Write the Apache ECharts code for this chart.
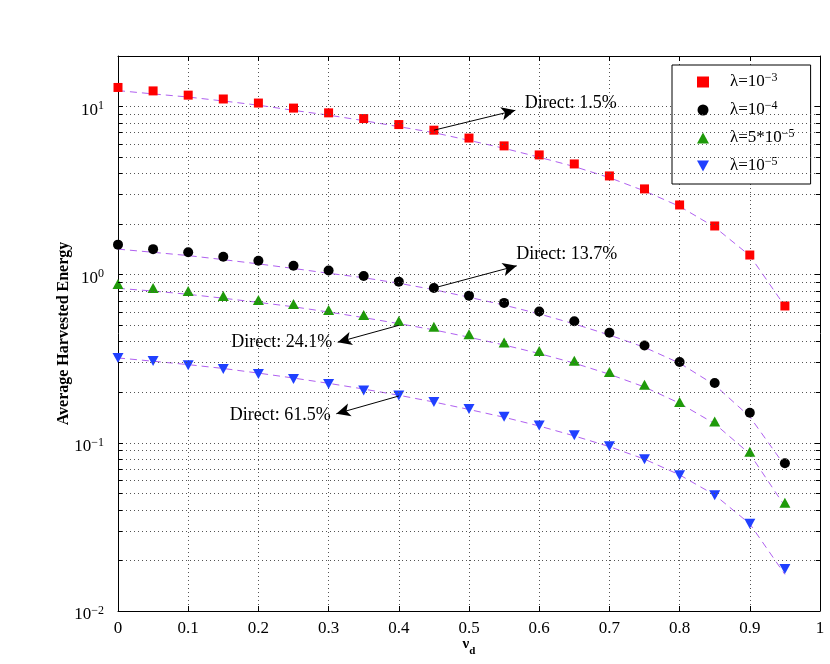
<!DOCTYPE html>
<html><head><meta charset="utf-8">
<script src="https://cdn.jsdelivr.net/npm/echarts@6/dist/echarts.min.js"></script>
<style>html,body{margin:0;padding:0;background:#fff}#c{width:830px;height:664px}</style>
</head><body><div id="c"></div>
<script>
// ---- data ----
const xValues = [0,0.05,0.1,0.15,0.2,0.25,0.3,0.35,0.4,0.45,0.5,0.55,0.6,0.65,0.7,0.75,0.8,0.85,0.9,0.95];
// simulated points (markers)
const sim1e3  = [13.0,12.4,11.7,11.1,10.5,9.8,9.18,8.49,7.82,7.24,6.5,5.84,5.16,4.56,3.87,3.24,2.6,1.95,1.31,0.652];
const sim1e4  = [1.51,1.42,1.36,1.28,1.21,1.13,1.06,0.984,0.91,0.834,0.751,0.68,0.604,0.529,0.452,0.379,0.303,0.227,0.151,0.0757];
const sim5e5  = [0.88,0.835,0.80,0.748,0.708,0.67,0.618,0.577,0.531,0.49,0.443,0.396,0.352,0.308,0.264,0.222,0.175,0.134,0.0887,0.044];
const sim1e5  = [0.32,0.307,0.29,0.275,0.257,0.24,0.224,0.205,0.191,0.175,0.159,0.143,0.127,0.111,0.0955,0.0799,0.0641,0.0488,0.033,0.0178];
// analytical curves (dashed)
const ana1e3  = [12.45,11.9,11.4,10.8,10.2,9.5,8.9,8.25,7.6,7.0,6.3,5.65,5.0,4.4,3.78,3.15,2.55,1.92,1.3,0.65];
const ana1e4  = [1.42,1.36,1.30,1.23,1.16,1.09,1.02,0.96,0.89,0.815,0.735,0.66,0.585,0.51,0.438,0.37,0.298,0.221,0.143,0.073];
const ana5e5  = [0.83,0.80,0.765,0.725,0.685,0.645,0.6,0.556,0.512,0.47,0.425,0.382,0.34,0.298,0.256,0.215,0.172,0.13,0.086,0.042];
const ana1e5  = [0.32,0.306,0.292,0.277,0.26,0.243,0.226,0.209,0.192,0.175,0.158,0.142,0.126,0.11,0.095,0.08,0.0645,0.049,0.033,0.0165];
const seriesNames = ['λ=10^−3','λ=10^−4','λ=5*10^−5','λ=10^−5'];
// y minor grid values
const minorGridY = [0.02,0.03,0.04,0.05,0.06,0.07,0.08,0.09,0.2,0.3,0.4,0.5,0.6,0.7,0.8,0.9,2,3,4,5,6,7,8,9];
// annotations
const annotFrom = [[0.45,7.24],[0.45,0.834],[0.4,0.5],[0.4,0.19]];
const annotTo   = [[0.566,9.5],[0.568,1.13],[0.313,0.397],[0.311,0.149]];
const annotText = ['Direct: 1.5%','Direct: 13.7%','Direct: 24.1%','Direct: 61.5%'];
const annotSide = ['right','right','left','left'];
const annotOffset = [[4,-7],[-6,-12],[0,0],[0,2]];

// ---- styles ----
const FONT = 'Liberation Serif';
const colors = ['#ff0000','#000000','#1f9a0a','#2040ff'];
const symbols = ['rect','circle','triangle','path://M0,0L10,0L5,9Z'];
const symSizes = [9,10,[11,10],[11,10]];
const dashColor = '#b060f0';
const toPair = arr => arr.map((v,i)=>[xValues[i], v]);
const sims = [sim1e3, sim1e4, sim5e5, sim1e5];
const anas = [ana1e3, ana1e4, ana5e5, ana1e5];
const supFmt = s => '{g|}' + s.replace(/\^(−?\d+)/, '{sup|$1}');

const series = [];
anas.forEach((a,i)=>{
  series.push({
    type:'line', name:'ana'+i, data: toPair(a), symbol:'none', z:2, silent:true,
    lineStyle:{color:dashColor, width:1, type:[7,5]}, animation:false
  });
});
// minor grid lines
series[0].markLine = {
  silent:true, symbol:['none','none'], animation:false, label:{show:false},
  lineStyle:{color:'#555', width:1, type:[1,3]},
  data: minorGridY.map(v=>({yAxis:v}))
};
// minor ticks (left & right)
series[1].markLine = {
  silent:true, symbol:['none','none'], animation:false, label:{show:false},
  lineStyle:{color:'#000', width:1, type:'solid'},
  data: minorGridY.flatMap(v=>[[{coord:[0,v]},{coord:[0.006,v]}],[{coord:[0.994,v]},{coord:[1,v]}]])
};
// arrows
series[2].markLine = {
  silent:true, symbol:['none','arrow'], symbolSize:12, animation:false, label:{show:false},
  lineStyle:{color:'#000', width:1, type:'solid'},
  data: annotFrom.map((f,i)=>[{coord:f, symbol:'none'},{coord:annotTo[i], symbol:'arrow', symbolSize:[10,14]}])
};
series[3].markPoint = {
  silent:true, symbol:'circle', symbolSize:1, animation:false,
  itemStyle:{color:'rgba(0,0,0,0)'},
  data: annotTo.map((t,i)=>({coord:t, label:{show:true, formatter:annotText[i], position:annotSide[i], distance:5,
     offset:annotOffset[i], fontFamily:FONT, fontSize:18, color:'#000'}}))
};
sims.forEach((s,i)=>{
  series.push({
    type:'scatter', name:seriesNames[i], data:toPair(s), symbol:symbols[i], symbolSize:symSizes[i],
    itemStyle:{color:colors[i], opacity:1}, z:3, animation:false
  });
});

const richSup = {sup:{fontFamily:FONT, fontSize:12, lineHeight:12, verticalAlign:'top', color:'#000'}};
const chart = echarts.init(document.getElementById('c'), null, {renderer:'canvas'});
chart.setOption({
  animation:false,
  backgroundColor:'#fff',
  grid:{left:118, right:10, top:56, bottom:53, containLabel:false, outerBoundsMode:'none'},
  legend:{
    orient:'vertical', left:672, top:65, padding:[7,16,8,25], itemWidth:12, itemHeight:11, itemGap:8,
    backgroundColor:'#fff', borderColor:'#000', borderWidth:1, borderRadius:0,
    data: seriesNames, formatter: supFmt,
    textStyle:{fontFamily:FONT, fontSize:17, lineHeight:20, color:'#000',
      rich:Object.assign({g:{width:16, height:1}}, richSup)}
  },
  xAxis:[{
    type:'value', min:0, max:1, interval:0.1, position:'bottom',
    name:'ν{sub|d}', nameLocation:'middle', nameGap:20, nameMoveOverlap:false,
    nameTextStyle:{fontFamily:FONT, fontSize:15, fontWeight:'bold', lineHeight:26, color:'#000',
      rich:{sub:{fontFamily:FONT, fontSize:11, fontWeight:'bold', lineHeight:11, verticalAlign:'bottom', color:'#000'}}},
    axisLine:{show:true, onZero:false, lineStyle:{color:'#000', width:1}},
    axisTick:{show:true, inside:true, length:5, lineStyle:{color:'#000'}},
    axisLabel:{fontFamily:FONT, fontSize:17, color:'#000', margin:9},
    splitLine:{show:true, lineStyle:{color:'#555', width:1, type:[1,3]}}
  },{
    type:'value', min:0, max:1, interval:0.1, position:'top',
    axisLine:{show:true, onZero:false, lineStyle:{color:'#000', width:1}},
    axisTick:{show:true, inside:true, length:5, lineStyle:{color:'#000'}},
    axisLabel:{show:false}, splitLine:{show:false}
  }],
  yAxis:[{
    type:'log', logBase:10, min:0.01, max:20, position:'left',
    name:'Average Harvested Energy', nameLocation:'middle', nameGap:46, nameMoveOverlap:false,
    nameTextStyle:{fontFamily:FONT, fontSize:16, fontWeight:'bold', color:'#000'},
    axisLine:{show:true, onZero:false, lineStyle:{color:'#000', width:1}},
    axisTick:{show:true, inside:true, length:5, lineStyle:{color:'#000'}},
    axisLabel:{fontFamily:FONT, fontSize:17, lineHeight:20, color:'#000', margin:14, padding:[7,0,0,0],
      formatter: v => {
        const e = Math.log10(v);
        if (Math.abs(e - Math.round(e)) > 1e-6) return '';
        const r = Math.round(e);
        return '10{sup|' + (r < 0 ? '−' + (-r) : r) + '}';
      },
      rich: richSup},
    splitLine:{show:true, lineStyle:{color:'#555', width:1, type:[1,3]}}
  },{
    type:'log', logBase:10, min:0.01, max:20, position:'right',
    axisLine:{show:true, onZero:false, lineStyle:{color:'#000', width:1}},
    axisTick:{show:true, inside:true, length:5, lineStyle:{color:'#000'}},
    axisLabel:{show:false}, splitLine:{show:false}
  }],
  series: series
});
</script>
</body></html>
